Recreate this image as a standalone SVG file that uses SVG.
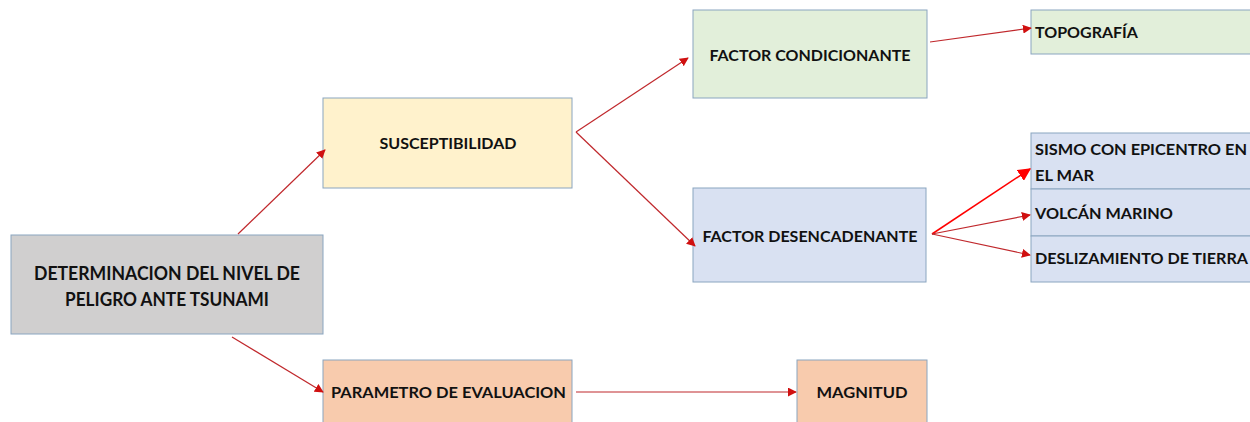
<svg xmlns="http://www.w3.org/2000/svg" width="1250" height="422" viewBox="0 0 1250 422">
<style>
.box{stroke:#8aa5c0;stroke-width:1}
.t{font-family:Lato,"Liberation Sans",sans-serif;font-weight:bold;font-size:15.5px;fill:#111}
.tb{font-size:18px}
.c{stroke:#c0282c;stroke-width:1.2;fill:none}
.cr{stroke:#ff0000;stroke-width:1.5;fill:none}
</style>
<defs>
<marker id="ah" viewBox="0 0 10 10" refX="9" refY="5" markerWidth="9" markerHeight="9" markerUnits="userSpaceOnUse" orient="auto"><path d="M0,0 L10,5 L0,10 z" fill="#d01010"/></marker>
<marker id="ahr" viewBox="0 0 10 10" refX="9" refY="5" markerWidth="13" markerHeight="13" markerUnits="userSpaceOnUse" orient="auto"><path d="M0,0 L10,5 L0,10 z" fill="#ff0000"/></marker>
</defs>
<rect width="1250" height="422" fill="#ffffff"/>
<g id="n-main"><rect class="box" x="11" y="235" width="312" height="99" fill="#d0cfcf"/>
<text class="t tb" x="167" y="280" text-anchor="middle" textLength="266" lengthAdjust="spacingAndGlyphs">DETERMINACION DEL NIVEL DE</text>
<text class="t tb" x="167" y="306" text-anchor="middle" textLength="204" lengthAdjust="spacingAndGlyphs">PELIGRO ANTE TSUNAMI</text></g>
<g id="n-susc"><rect class="box" x="323" y="98" width="249" height="90" fill="#fff2cc"/>
<text class="t" x="448" y="149" text-anchor="middle" textLength="137" lengthAdjust="spacingAndGlyphs">SUSCEPTIBILIDAD</text></g>
<g id="n-fc"><rect class="box" x="693" y="10" width="234" height="88" fill="#e2efda"/>
<text class="t" x="810" y="61" text-anchor="middle" textLength="201" lengthAdjust="spacingAndGlyphs">FACTOR CONDICIONANTE</text></g>
<g id="n-topo"><rect class="box" x="1031" y="10" width="225" height="44" fill="#e2efda"/>
<text class="t" x="1035" y="38" textLength="103" lengthAdjust="spacingAndGlyphs">TOPOGRAFÍA</text></g>
<g id="n-fd"><rect class="box" x="693" y="188" width="233" height="94" fill="#d9e1f2"/>
<text class="t" x="810" y="242" text-anchor="middle" textLength="215" lengthAdjust="spacingAndGlyphs">FACTOR DESENCADENANTE</text></g>
<g id="n-sismo"><rect class="box" x="1031" y="133" width="225" height="56" fill="#d9e1f2"/>
<text class="t" x="1035" y="155" textLength="212" lengthAdjust="spacingAndGlyphs">SISMO CON EPICENTRO EN</text>
<text class="t" x="1035" y="181" textLength="59" lengthAdjust="spacingAndGlyphs">EL MAR</text></g>
<g id="n-volcan"><rect class="box" x="1031" y="189" width="225" height="47" fill="#d9e1f2"/>
<text class="t" x="1035" y="219" textLength="138" lengthAdjust="spacingAndGlyphs">VOLCÁN MARINO</text></g>
<g id="n-desl"><rect class="box" x="1031" y="236" width="225" height="46" fill="#d9e1f2"/>
<text class="t" x="1035" y="264" textLength="213" lengthAdjust="spacingAndGlyphs">DESLIZAMIENTO DE TIERRA</text></g>
<g id="n-param"><rect class="box" x="323" y="360" width="249" height="70" fill="#f8cbad"/>
<text class="t" x="331" y="398" textLength="235" lengthAdjust="spacingAndGlyphs">PARAMETRO DE EVALUACION</text></g>
<g id="n-mag"><rect class="box" x="797" y="360" width="130" height="70" fill="#f8cbad"/>
<text class="t" x="862" y="398" text-anchor="middle" textLength="91" lengthAdjust="spacingAndGlyphs">MAGNITUD</text></g>
<g id="connectors">
<line class="c" x1="238" y1="234" x2="325" y2="150" marker-end="url(#ah)"/>
<line class="c" x1="232" y1="337" x2="323" y2="392" marker-end="url(#ah)"/>
<line class="c" x1="576" y1="132" x2="688" y2="58" marker-end="url(#ah)"/>
<line class="c" x1="576" y1="132" x2="695" y2="246" marker-end="url(#ah)"/>
<line class="c" x1="930" y1="42" x2="1031" y2="28" marker-end="url(#ah)"/>
<line class="c" x1="576" y1="392" x2="796" y2="392" marker-end="url(#ah)"/>
<line class="cr" x1="932" y1="234" x2="1030" y2="169" marker-end="url(#ahr)"/>
<line class="c" x1="932" y1="234" x2="1030" y2="215" marker-end="url(#ah)"/>
<line class="c" x1="932" y1="234" x2="1030" y2="255" marker-end="url(#ah)"/>
</g>
</svg>
